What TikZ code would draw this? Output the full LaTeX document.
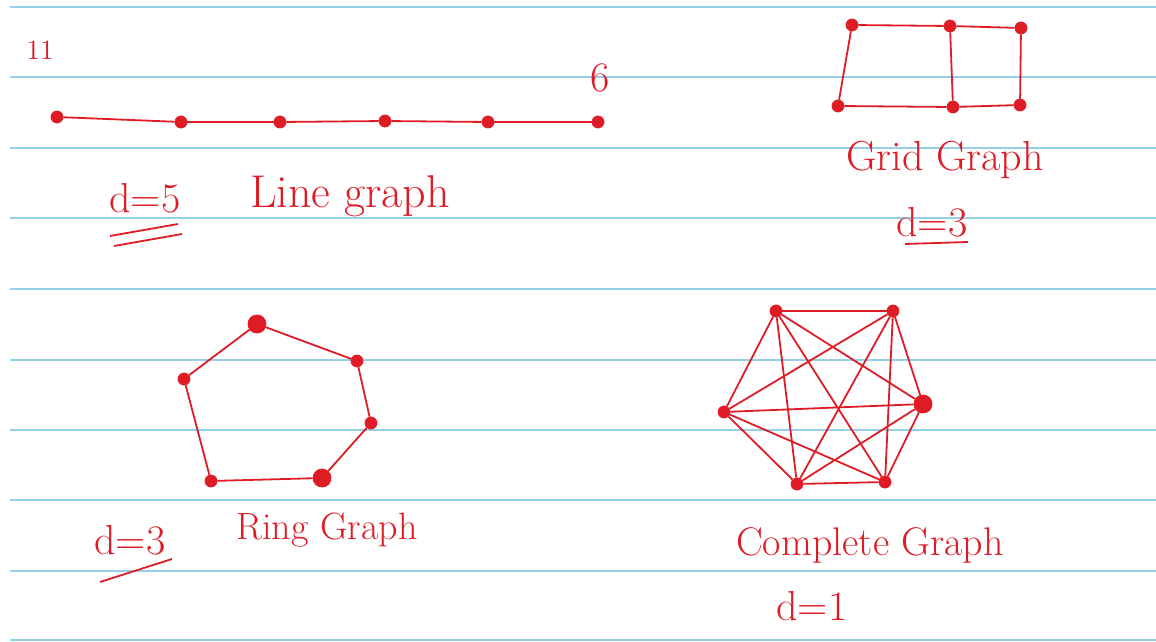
\documentclass[tikz,border=0pt]{standalone}
\usetikzlibrary{positioning}
\definecolor{ink}{RGB}{222,28,38}
\definecolor{rulecol}{RGB}{150,208,232}
\tikzset{
  dot/.style={circle, fill=ink, draw=ink, inner sep=0pt, minimum size=6pt},
  bigdot/.style={dot, minimum size=9pt},
  edge/.style={draw=ink, line width=0.9pt},
  hand/.style={text=ink, inner sep=0pt, font=\fontsize{21}{24}\selectfont},
}

\begin{document}
\begin{tikzpicture}[x=0.5pt, y=-0.5pt]
    \useasboundingbox (0,0) rectangle (1156,642);
    % ruled paper
    \foreach \y in {7,77,148,218,289,360,430,500,571,640}
        \draw[rulecol, line width=1pt] (10,\y) -- (1156,\y);

    % Line graph
    \foreach \n/\x/\y in {1/57/117, 2/181/122, 3/280/122, 4/385/121, 5/488/122, 6/598/122}
        \node[dot] (l\n) at (\x,\y) {};
    \foreach \i [count=\j from 2] in {1,...,5}
        \draw[edge] (l\i) -- (l\j);
    \node[hand, font=\fontsize{14}{16}\selectfont] (one) at (40,50) {11};
    \node[hand] (six) at (600,78) {6};
    \node[hand] (d5) at (145,198) {d=5};
    \draw[edge] (110,236) -- (178,224);
    \draw[edge] (114,246) -- (182,234);
    \node[hand, font=\fontsize{23}{26}\selectfont] (linelbl) at (350,196) {Line graph};

    % Grid graph
    \node[dot] (g1) at (852,25) {};
    \node[dot] (g2) at (950,26) {};
    \node[dot] (g3) at (1021,28) {};
    \node[dot] (g4) at (838,106) {};
    \node[dot] (g5) at (953,107) {};
    \node[dot] (g6) at (1020,105) {};
    \draw[edge] (g1) -- (g2) -- (g3) -- (g6) -- (g5) -- (g4) -- (g1);
    \draw[edge] (g2) -- (g5);
    \node[hand] (gridlbl) at (945,160) {Grid Graph};
    \node[hand] (d3a) at (932,222) {d=3};
    \draw[edge] (905,244) -- (968,242);

    % Ring graph
    \node[bigdot] (r1) at (257,324) {};
    \node[dot] (r2) at (357,361) {};
    \node[dot] (r3) at (371,423) {};
    \node[bigdot] (r4) at (322,478) {};
    \node[dot] (r5) at (211,481) {};
    \node[dot] (r6) at (184,379) {};
    \draw[edge] (r1) -- (r2) -- (r3) -- (r4) -- (r5) -- (r6) -- (r1);
    \node[hand] (d3b) at (130,540) {d=3};
    \draw[edge] (100,582) -- (172,559);
    \node[hand, font=\fontsize{19}{22}\selectfont] (ringlbl) at (327,530) {Ring Graph};

    % Complete graph
    \node[dot] (k1) at (776,311) {};
    \node[dot] (k2) at (893,311) {};
    \node[bigdot] (k3) at (923,404) {};
    \node[dot] (k4) at (885,482) {};
    \node[dot] (k5) at (797,484) {};
    \node[dot] (k6) at (724,412) {};
    \foreach \i in {1,...,5}{
        \pgfmathtruncatemacro\k{\i+1}
        \foreach \j in {\k,...,6}
            \draw[edge] (k\i) -- (k\j);
    }
    \node[hand, font=\fontsize{20}{23}\selectfont] (complbl) at (870,545) {Complete Graph};
    \node[hand] (d1) at (812,606) {d=1};
\end{tikzpicture}
\end{document}
